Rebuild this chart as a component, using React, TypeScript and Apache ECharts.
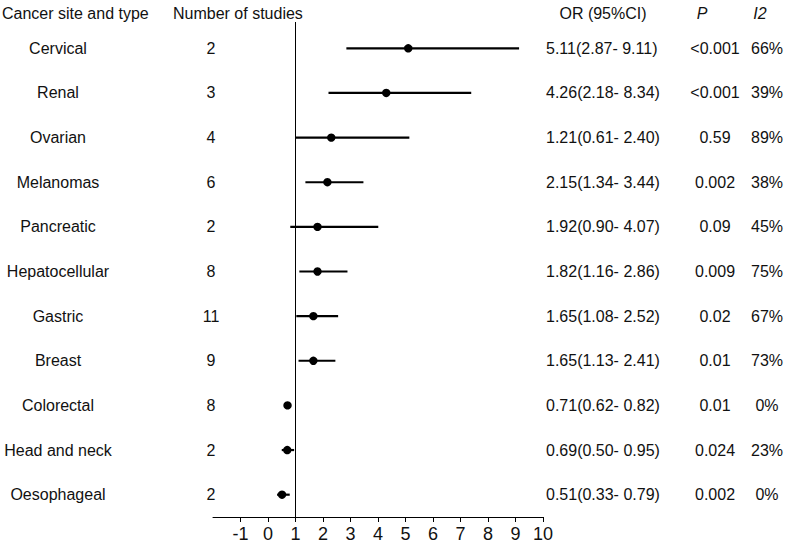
import React, { useEffect, useRef } from "react";
import * as echarts from "echarts";

const sites = [
  "Cervical",
  "Renal",
  "Ovarian",
  "Melanomas",
  "Pancreatic",
  "Hepatocellular",
  "Gastric",
  "Breast",
  "Colorectal",
  "Head and neck",
  "Oesophageal",
];
const studies = [2, 3, 4, 6, 2, 8, 11, 9, 8, 2, 2];
// values as plotted in the figure
const orPlot = [5.1, 4.3, 2.3, 2.16, 1.8, 1.8, 1.65, 1.65, 0.71, 0.7, 0.51];
const lowPlot = [2.85, 2.2, 1.0, 1.36, 0.81, 1.14, 1.03, 1.11, 0.62, 0.5, 0.33];
const highPlot = [9.13, 7.39, 5.14, 3.47, 4.01, 2.89, 2.55, 2.45, 0.82, 0.95, 0.79];
const orText = [
  "5.11(2.87- 9.11)",
  "4.26(2.18- 8.34)",
  "1.21(0.61- 2.40)",
  "2.15(1.34- 3.44)",
  "1.92(0.90- 4.07)",
  "1.82(1.16- 2.86)",
  "1.65(1.08- 2.52)",
  "1.65(1.13- 2.41)",
  "0.71(0.62- 0.82)",
  "0.69(0.50- 0.95)",
  "0.51(0.33- 0.79)",
];
const pText = ["<0.001", "<0.001", "0.59", "0.002", "0.09", "0.009", "0.02", "0.01", "0.01", "0.024", "0.002"];
const i2Text = ["66%", "39%", "89%", "38%", "45%", "75%", "67%", "73%", "0%", "23%", "0%"];
const xTicks = [-1, 0, 1, 2, 3, 4, 5, 6, 7, 8, 9, 10];
const refValue = 1;

const FONT = "'Liberation Sans', Arial, sans-serif";
const TXT = "#111";

export default function App() {
  const ref = useRef<HTMLDivElement>(null);
  useEffect(() => {
    if (!ref.current) return;
    const chart = echarts.init(ref.current, null, { renderer: "svg" });
    const labelBase = {
      fontSize: 16,
      fontFamily: FONT,
      color: TXT,
      interval: 0,
    };
    const catAxis = (extra: any) => ({
      type: "category",
      inverse: true,
      data: sites,
      axisLine: { show: false },
      axisTick: { show: false },
      splitLine: { show: false },
      ...extra,
    });
    const data = sites.map((_, i) => [lowPlot[i], highPlot[i], orPlot[i], i]);
    chart.setOption({
      animation: false,
      grid: { left: 213, right: 244, top: 26, bottom: 26, containLabel: false },
      xAxis: {
        type: "value",
        min: -2,
        max: 10,
        interval: 1,
        splitLine: { show: false },
        axisLine: { show: true, onZero: false, lineStyle: { color: "#000", width: 1 } },
        axisTick: { show: true, customValues: xTicks, length: 5, lineStyle: { color: "#000" } },
        axisLabel: { customValues: xTicks, fontSize: 18, fontFamily: FONT, color: TXT, margin: 8 },
      },
      yAxis: [
        catAxis({
          position: "left",
          axisLabel: { ...labelBase, align: "center", margin: 155 },
        }),
        catAxis({
          position: "left",
          axisLabel: {
            ...labelBase,
            align: "center",
            margin: 2,
            formatter: (_v: string, i: number) => String(studies[i]),
          },
        }),
        catAxis({
          position: "right",
          axisLabel: {
            ...labelBase,
            align: "left",
            margin: 3,
            formatter: (_v: string, i: number) => orText[i],
          },
        }),
        catAxis({
          position: "right",
          axisLabel: {
            ...labelBase,
            align: "center",
            margin: 172,
            formatter: (_v: string, i: number) => pText[i],
          },
        }),
        catAxis({
          position: "right",
          axisLabel: {
            ...labelBase,
            align: "center",
            margin: 224,
            formatter: (_v: string, i: number) => i2Text[i],
          },
        }),
      ],
      graphic: [
        { type: "text", x: 2, y: 13, style: { text: "Cancer site and type", fontSize: 16, fontFamily: FONT, fill: TXT, verticalAlign: "middle" } },
        { type: "text", x: 173, y: 13, style: { text: "Number of studies", fontSize: 16, fontFamily: FONT, fill: TXT, verticalAlign: "middle" } },
        { type: "text", x: 603, y: 13, style: { text: "OR (95%CI)", fontSize: 16, fontFamily: FONT, fill: TXT, align: "center", verticalAlign: "middle" } },
        { type: "text", x: 702, y: 13, style: { text: "P", fontSize: 16, fontStyle: "italic", fontFamily: FONT, fill: TXT, align: "center", verticalAlign: "middle" } },
        { type: "text", x: 760, y: 13, style: { text: "I2", fontSize: 16, fontStyle: "italic", fontFamily: FONT, fill: TXT, align: "center", verticalAlign: "middle" } },
      ],
      series: [
        {
          type: "custom",
          xAxisIndex: 0,
          yAxisIndex: 0,
          encode: { x: 0, y: 1 },
          data: [[refValue, 0]],
          renderItem: (params: any, api: any) => {
            const p = api.coord([api.value(0), 0]);
            const cs = params.coordSys;
            return {
              type: "line",
              shape: { x1: p[0], y1: cs.y - 4, x2: p[0], y2: cs.y + cs.height },
              style: { stroke: "#000", lineWidth: 1 },
            };
          },
        },
        {
          type: "custom",
          xAxisIndex: 0,
          yAxisIndex: 0,
          encode: { x: [0, 1, 2], y: 3 },
          data,
          renderItem: (_params: any, api: any) => {
            const idx = api.value(3);
            const p1 = api.coord([api.value(0), idx]);
            const p2 = api.coord([api.value(1), idx]);
            const pc = api.coord([api.value(2), idx]);
            return {
              type: "group",
              children: [
                {
                  type: "line",
                  shape: { x1: p1[0], y1: p1[1], x2: p2[0], y2: p2[1] },
                  style: { stroke: "#000", lineWidth: 2.2 },
                },
                {
                  type: "circle",
                  shape: { cx: pc[0], cy: pc[1], r: 4.2 },
                  style: { fill: "#000" },
                },
              ],
            };
          },
        },
      ],
    });
    return () => chart.dispose();
  }, []);
  return (
    <div
      ref={ref}
      style={{ position: "fixed", left: 0, top: 0, width: 787, height: 543, background: "#fff" }}
    />
  );
}
